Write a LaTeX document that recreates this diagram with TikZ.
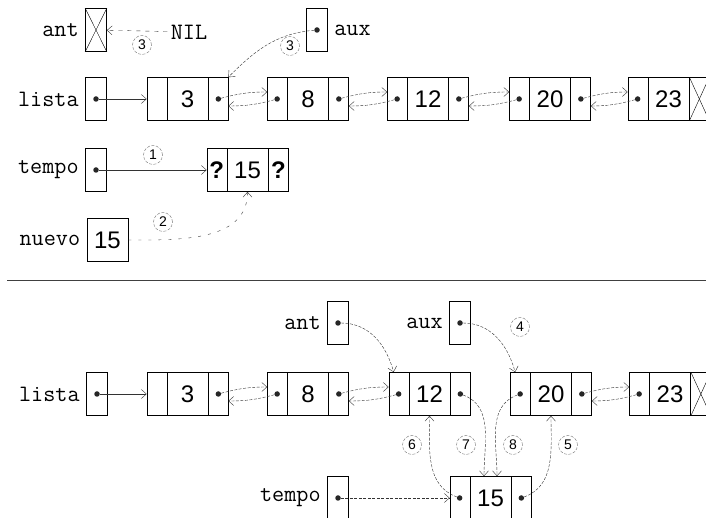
\documentclass[tikz,border=0pt]{standalone}
\usepackage{fontspec}
\setsansfont{Liberation Sans}
\usetikzlibrary{arrows.meta,positioning,calc}

\newcommand{\lbltxt}{\ttfamily\fontsize{23.5}{26}\selectfont}
\newcommand{\digtxt}{\sffamily\fontsize{24}{28}\selectfont}
\newcommand{\numtxt}{\sffamily\fontsize{14}{16}\selectfont}

\tikzset{
    ptr/.style={draw, line width=0.7pt, minimum width=21pt, minimum height=43pt, inner sep=0pt},
    cellbox/.style={draw, line width=0.7pt, minimum width=81pt, minimum height=43pt, inner sep=0pt,
        font=\digtxt, path picture={
            \draw ([xshift=20pt]path picture bounding box.south west) -- ([xshift=20pt]path picture bounding box.north west);
            \draw ([xshift=-20pt]path picture bounding box.south east) -- ([xshift=-20pt]path picture bounding box.north east);}},
    dot/.style={circle, fill=black!85, inner sep=0pt, minimum size=5.5pt},
    lbl/.style={font=\lbltxt},
    num/.style={circle, draw=black!55, dash pattern=on 3pt off 1.5pt, minimum size=19pt,
        inner sep=0pt, font=\numtxt},
    lnk/.style={-{Straight Barb[length=5pt,width=9pt]}, black!80},
    lnkd/.style={lnk, dash pattern=on 3pt off 1.5pt}
}

\begin{document}
\begin{tikzpicture}[x=1pt, y=1pt]
    \useasboundingbox (0,0) rectangle (706,518);

    % Before: pointers and list
    \node[ptr] (antT) at (96,488) {};
    \draw (antT.north west) -- (antT.south east);
    \draw (antT.north east) -- (antT.south west);
    \node[lbl, left=3pt of antT] (antTl) {ant};
    \node[lbl] (nilT) at (189,486) {NIL};
    \draw[lnk, dash pattern=on 4pt off 5pt] (nilT) -- (antT);
    \node[num] (c3a) at (142,473) {3};

    \node[ptr] (auxT) at (317,488) {};
    \node[lbl, right=3pt of auxT] (auxTl) {aux};
    \node[num] (c3b) at (290,472) {3};

    \node[ptr] (listaT) at (96,419) {};
    \node[lbl, left=3pt of listaT] (listaTl) {lista};
    \node[cellbox] (n3T) at (187.5,419) {3};
    \node[cellbox] (n8T) at (308,419) {8};
    \node[cellbox] (n12T) at (428,419) {12};
    \node[cellbox] (n20T) at (550,419) {20};
    \node[cellbox] (n23T) at (668.5,419) {23};

    \node[ptr] (tempoT) at (96,348) {};
    \node[lbl, left=3pt of tempoT] (tempoTl) {tempo};
    \node[cellbox] (qT) at (247.5,348) {15};
    \node[font=\digtxt\bfseries] (qT-l) at ([xshift=10pt]qT.west) {?};
    \node[font=\digtxt\bfseries] (qT-r) at ([xshift=-10pt]qT.east) {?};
    \node[num] (c1) at (153,363) {1};

    \node[ptr, minimum width=41pt, font=\digtxt] (nuevoT) at (107.5,278) {15};
    \node[lbl, left=3pt of nuevoT] (nuevoTl) {nuevo};
    \node[num] (c2) at (163,296) {2};

    % separator
    \draw[thin, black!75] (7,238) -- (706,238);

    % After: pointers and list
    \node[ptr] (antB) at (338,195) {};
    \node[lbl, left=3pt of antB] (antBl) {ant};
    \node[ptr] (auxB) at (460,195) {};
    \node[lbl, left=3pt of auxB] (auxBl) {aux};
    \node[num] (c4) at (520,191) {4};

    \node[ptr] (listaB) at (97,124) {};
    \node[lbl, left=3pt of listaB] (listaBl) {lista};
    \node[cellbox] (n3B) at (187.5,124) {3};
    \node[cellbox] (n8B) at (308,124) {8};
    \node[cellbox] (n12B) at (429.5,124) {12};
    \node[cellbox] (n20B) at (551,124) {20};
    \node[cellbox] (n23B) at (670,124) {23};

    \node[ptr] (tempoB) at (338,20) {};
    \node[lbl, left=3pt of tempoB] (tempoBl) {tempo};
    \node[cellbox] (n15B) at (490.5,20) {15};

    \node[num] (c6) at (412,73) {6};
    \node[num] (c7) at (466,73) {7};
    \node[num] (c8) at (513,73) {8};
    \node[num] (c5) at (568,73) {5};

    % NIL ends
    \draw ([xshift=-20pt]n23T.north east) -- (n23T.south east);
    \draw ([xshift=-20pt]n23T.south east) -- (n23T.north east);
    \draw ([xshift=-20pt]n23B.north east) -- (n23B.south east);
    \draw ([xshift=-20pt]n23B.south east) -- (n23B.north east);

    % dots
    \foreach \p in {auxT,listaT,tempoT,antB,auxB,listaB,tempoB}
        \node[dot] (\p-d) at (\p) {};
    \foreach \n in {n8T,n12T,n20T,n23T,n8B,n12B,n20B,n23B,n15B}
        \node[dot] (\n-l) at ([xshift=10pt]\n.west) {};
    \foreach \n in {n3T,n8T,n12T,n20T,n3B,n8B,n12B,n20B,n15B}
        \node[dot] (\n-r) at ([xshift=-10pt]\n.east) {};

    % double links
    \foreach \a/\b in {n3T/n8T,n8T/n12T,n12T/n20T,n20T/n23T,n3B/n8B,n8B/n12B,n20B/n23B} {
        \draw[lnkd] (\a-r) to[out=15, in=180] ([yshift=7pt]\b.west);
        \draw[lnkd] (\b-l) to[out=195, in=0] ([yshift=-7pt]\a.east);
    }

    % pointers, before
    \draw[lnk] (listaT-d) -- (n3T);
    \draw[lnk] (tempoT-d) -- (qT);
    \draw[lnkd] (auxT-d) to[out=185, in=45] (n3T.north east);
    \draw[lnk, dash pattern=on 3pt off 7pt] (nuevoT) to[out=0, in=270] (qT.south);

    % pointers, after
    \draw[lnk] (listaB-d) -- (n3B);
    \draw[lnkd] (tempoB-d) -- (n15B);
    \draw[lnkd] (antB-d) to[out=0, in=105] ([xshift=5pt]n12B.north west);
    \draw[lnkd] (auxB-d) to[out=0, in=105] ([xshift=5pt]n20B.north west);
    \draw[lnkd] (n15B-l) to[out=160, in=270] (n12B.south);
    \draw[lnkd] (n12B-r) to[out=-20, in=90] ([xshift=-6.5pt]n15B.north);
    \draw[lnkd] (n20B-l) to[out=200, in=90] ([xshift=6.5pt]n15B.north);
    \draw[lnkd] (n15B-r) to[out=20, in=270] (n20B.south);
\end{tikzpicture}
\end{document}
